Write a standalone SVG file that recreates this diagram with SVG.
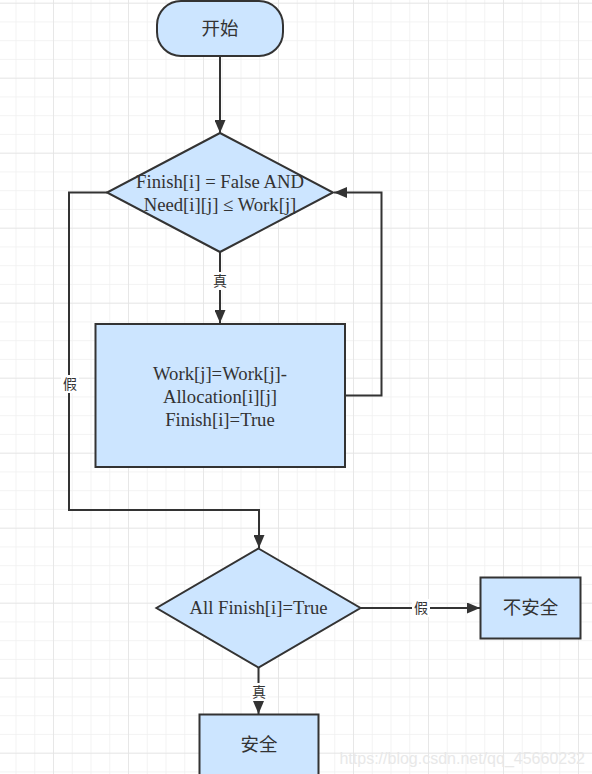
<svg xmlns="http://www.w3.org/2000/svg" width="592" height="774" viewBox="0 0 592 774">
<defs>
<pattern id="minor" x="-3.25" y="2.7" width="18.75" height="18.75" patternUnits="userSpaceOnUse">
<path d="M0 0H18.75M0 0V18.75" fill="none" stroke="#f0f0f0" stroke-width="1.5"/>
</pattern>
<pattern id="major" x="53" y="2.7" width="75" height="75" patternUnits="userSpaceOnUse">
<path d="M0 0H75M0 0V75" fill="none" stroke="#e4e4e4" stroke-width="1.5"/>
</pattern>
<marker id="arr" viewBox="0 0 13 11" refX="13" refY="5.5" markerWidth="13" markerHeight="11" markerUnits="userSpaceOnUse" orient="auto">
<path d="M0 0L13 5.5L0 11Z" fill="#333"/>
</marker>
</defs>
<style>
.shape{fill:#cce5ff;stroke:#333;stroke-width:2}
.en{font-family:"Liberation Serif","Times New Roman",serif;font-size:18.7px;fill:#333;text-anchor:middle}
.zh{font-family:"Noto Sans CJK SC",sans-serif;font-size:18.5px;fill:#333;text-anchor:middle}
.lbl{font-family:"Noto Sans CJK SC",sans-serif;font-size:14px;fill:#333;text-anchor:middle}
.edge{fill:none;stroke:#333;stroke-width:2}
.lblbg{fill:#fff}
</style>
<rect width="592" height="774" fill="#fff"/>
<rect width="592" height="774" fill="url(#minor)"/>
<rect width="592" height="774" fill="url(#major)"/>

<g id="connectors">
<path class="edge" d="M220 56V133" marker-end="url(#arr)"/>
<path class="edge" d="M220 252V323" marker-end="url(#arr)"/>
<rect class="lblbg" x="211" y="272" width="18" height="18"/>
<text class="lbl" x="220" y="286">真</text>
<path class="edge" d="M345 395.5H381.5V192.5H334" marker-end="url(#arr)"/>
<path class="edge" d="M107 192.5H69V510H259V548" marker-end="url(#arr)"/>
<rect class="lblbg" x="61" y="375" width="18" height="18"/>
<text class="lbl" x="70" y="389">假</text>
<path class="edge" d="M361 608H480" marker-end="url(#arr)"/>
<rect class="lblbg" x="412" y="599" width="18" height="18"/>
<text class="lbl" x="421" y="613">假</text>
<path class="edge" d="M258.5 667V714" marker-end="url(#arr)"/>
<rect class="lblbg" x="250" y="683" width="18" height="18"/>
<text class="lbl" x="259" y="697">真</text>
</g>

<g id="start">
<rect class="shape" x="157" y="1" width="126" height="55" rx="24" ry="24"/>
<text class="zh" x="220" y="35">开始</text>
</g>

<g id="check">
<path class="shape" d="M220 133L333 192.5L220 252L107 192.5Z"/>
<text class="en" x="220" y="188">Finish[i] = False AND</text>
<text class="en" x="220" y="211">Need[i][j] ≤ Work[j]</text>
</g>

<g id="update">
<rect class="shape" x="95.5" y="324" width="249.5" height="143"/>
<text class="en" x="220" y="380">Work[j]=Work[j]-</text>
<text class="en" x="220" y="403">Allocation[i][j]</text>
<text class="en" x="220" y="426">Finish[i]=True</text>
</g>

<g id="allfinish">
<path class="shape" d="M258.5 548.5L360.5 608L258.5 667.5L156.5 608Z"/>
<text class="en" x="258.5" y="614">All Finish[i]=True</text>
</g>

<g id="unsafe">
<rect class="shape" x="480.5" y="577.5" width="100" height="61"/>
<text class="zh" x="530.5" y="614">不安全</text>
</g>

<g id="safe">
<rect class="shape" x="199.5" y="714.5" width="119" height="70"/>
<text class="zh" x="259" y="751">安全</text>
</g>

<text x="585" y="764" font-family="'Liberation Sans',Arial,sans-serif" font-size="16" fill="#e8e8e8" text-anchor="end">https://blog.csdn.net/qq_45660232</text>
</svg>
